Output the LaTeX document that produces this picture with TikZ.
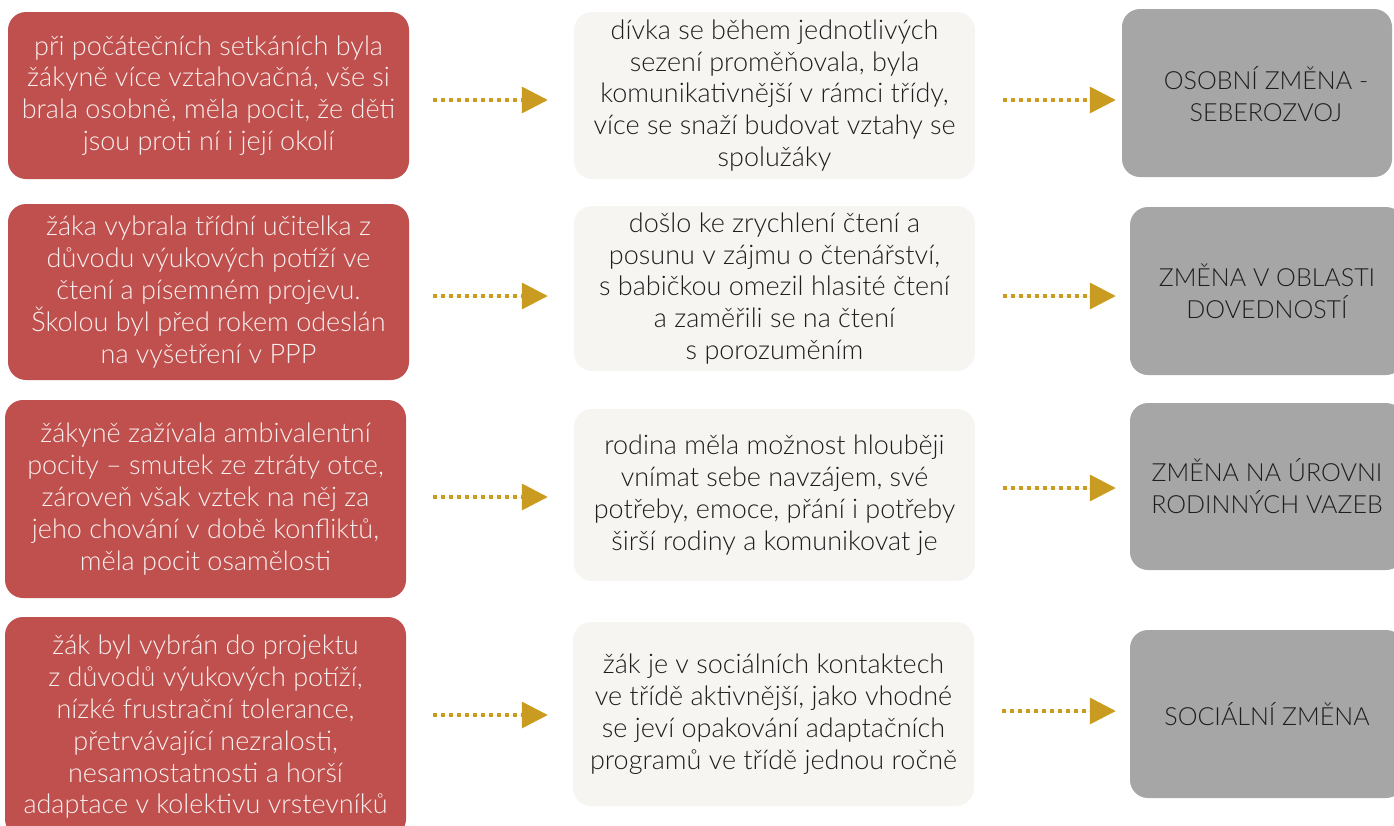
\documentclass[tikz,border=0pt]{standalone}
\usepackage{fontspec}
\setmainfont{Lato Light}
\usetikzlibrary{arrows.meta}
\definecolor{redbox}{RGB}{192,80,77}
\definecolor{midbox}{RGB}{247,245,242}
\definecolor{greybox}{RGB}{166,166,166}
\definecolor{gold}{RGB}{201,155,32}
\definecolor{darktext}{RGB}{30,30,30}
\definecolor{lighttext}{RGB}{248,240,240}
\begin{document}
\begin{tikzpicture}[x=1pt,y=-1pt,
  box/.style={rounded corners=18pt, inner sep=0pt, align=center,
    font=\fontsize{27}{31.8}\selectfont},
  redb/.style={box, fill=redbox, text=lighttext, minimum width=401pt},
  midb/.style={box, fill=midbox, text=darktext, minimum width=401pt},
  greyb/.style={box, fill=greybox, minimum width=274pt},
  greyt/.style={box, text=darktext, font=\fontsize{25}{32}\selectfont},
  flow/.style={draw=gold, fill=gold, line width=3.5pt, dash pattern=on 3.5pt off 4.5pt,
    -{Triangle[length=26pt,width=26pt]}}]
\useasboundingbox (0,0) rectangle (1394,825);

% red column
\node[redb, minimum height=167pt] (R1) at (208.5,95.5)
  {při počátečních setkáních byla\\žákyně více vztahovačná, vše si\\brala osobně, měla pocit, že děti\\jsou proti ní i její okolí};
\node[redb, minimum height=176pt] (R2) at (208.5,292)
  {žáka vybrala třídní učitelka z\\důvodu výukových potíží ve\\čtení a písemném projevu.\\Školou byl před rokem odeslán\\na vyšetření v PPP};
\node[redb, minimum height=198pt] (R3) at (205.5,499)
  {žákyně zažívala ambivalentní\\pocity – smutek ze ztráty otce,\\zároveň však vztek na něj za\\jeho chování v době konfliktů,\\měla pocit osamělosti};
\node[redb, minimum height=220pt] (R4) at (205.5,727)
  {žák byl vybrán do projektu\\z důvodů výukových potíží,\\nízké frustrační tolerance,\\přetrvávající nezralosti,\\nesamostatnosti a horší\\adaptace v kolektivu vrstevníků};

% middle column
\node[midb, minimum height=167pt] (M1) at (774.5,95.5)
  {dívka se během jednotlivých\\sezení proměňovala, byla\\komunikativnější v rámci třídy,\\více se snaží budovat vztahy se\\spolužáky};
\node[midb, minimum height=165pt] (M2) at (774.5,288.5)
  {došlo ke zrychlení čtení a\\posunu v zájmu o čtenářství,\\s babičkou omezil hlasité čtení\\a zaměřili se na čtení\\s porozuměním};
\node[midb, minimum height=172pt] (M3) at (774.5,495)
  {rodina měla možnost hlouběji\\vnímat sebe navzájem, své\\potřeby, emoce, přání i potřeby\\širší rodiny a komunikovat je};
\node[midb, minimum height=184pt] (M4) at (773.5,714)
  {žák je v sociálních kontaktech\\ve třídě aktivnější, jako vhodné\\se jeví opakování adaptačních\\programů ve třídě jednou ročně};

% grey column
\node[greyb, minimum width=270pt, minimum height=168pt] (G1) at (1257,93) {};
\node[greyt] (T1) at (1266,94) {OSOBNÍ ZMĚNA -\\SEBEROZVOJ};
\node[greyb, minimum height=168pt] (G2) at (1267,291) {};
\node[greyt] (T2) at (1267,291) {ZMĚNA V OBLASTI\\DOVEDNOSTÍ};
\node[greyb, minimum height=167pt] (G3) at (1267,486.5) {};
\node[greyt] (T3) at (1267,486.5) {ZMĚNA NA ÚROVNI\\RODINNÝCH VAZEB};
\node[greyb, minimum height=168pt] (G4) at (1267,714) {};
\node[greyt] (T4) at (1267,714) {SOCIÁLNÍ ZMĚNA};

% arrows
\draw[flow] ([shift={(24,4.5)}]R1.east) -- ([shift={(-26,4.5)}]M1.west);
\draw[flow] ([shift={(24,4)}]R2.east) -- ([shift={(-26,7.5)}]M2.west);
\draw[flow] ([shift={(27,-2)}]R3.east) -- ([shift={(-26,2)}]M3.west);
\draw[flow] ([shift={(27,-12)}]R4.east) -- ([shift={(-25,1)}]M4.west);

\draw[flow] ([shift={(28,4.5)}]M1.east) -- ([shift={(-6,7)}]G1.west);
\draw[flow] ([shift={(28,7.5)}]M2.east) -- ([shift={(-14,5)}]G2.west);
\draw[flow] ([shift={(28,-7)}]M3.east) -- ([shift={(-14,1.5)}]G3.west);
\draw[flow] ([shift={(28,-3)}]M4.east) -- ([shift={(-14,-3)}]G4.west);
\end{tikzpicture}
\end{document}
